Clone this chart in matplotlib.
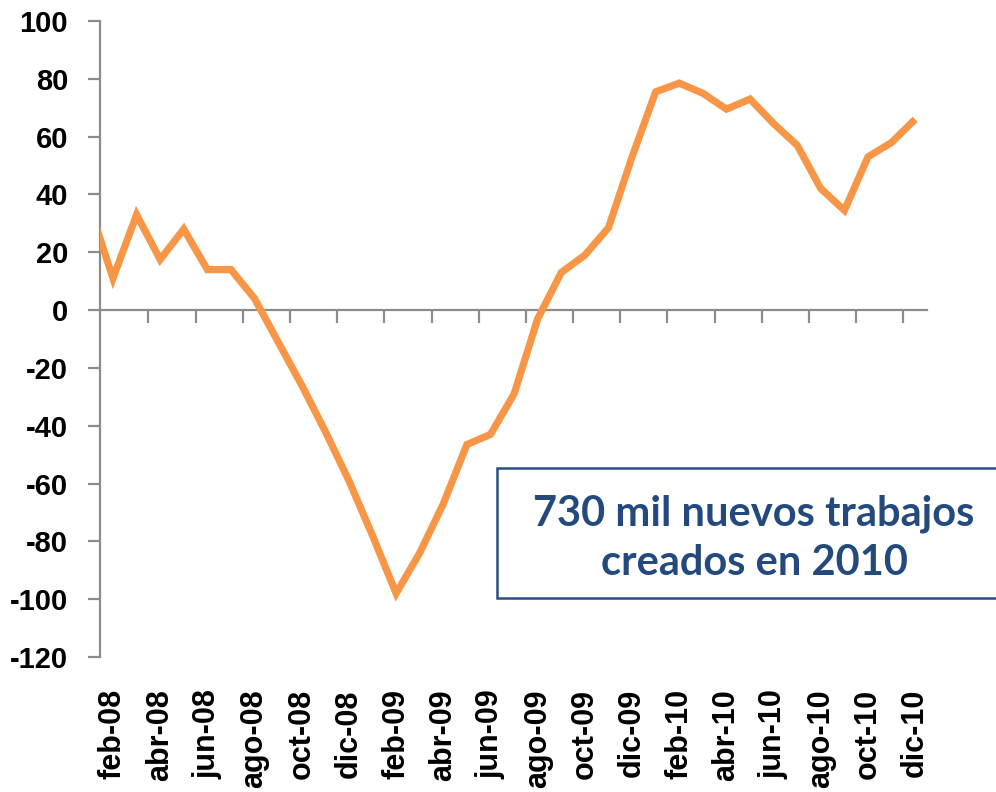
import matplotlib
matplotlib.use("Agg")
import matplotlib.pyplot as plt
import matplotlib.transforms as mtransforms
from matplotlib.patches import Rectangle

months = ["ene", "feb", "mar", "abr", "may", "jun", "jul", "ago", "sep", "oct", "nov", "dic"]
years = ["08", "09", "10"]
categories = [f"{m}-{y}" for y in years for m in months]

values = [36, 11, 33, 17.5, 28, 14, 14, 4,
          -11, -26, -42, -59,
          -78, -98, -84, -67, -46.5, -43, -29, -3, 13, 19, 28.5, 53,
          75.5, 78.5, 75, 69.5, 73, 64.5, 57, 42, 34.5, 53, 58, 66]

yticks = list(range(-120, 101, 20))
annotation = "730 mil nuevos trabajos\ncreados en 2010"

W, H = 996, 792
fig = plt.figure(figsize=(W / 100, H / 100), dpi=100)
ax = fig.add_axes([100 / W, 1 - 657 / H, 827 / W, 636 / H])

x = list(range(len(values)))
ax.plot(x, values, color="#F79646", lw=5.2, solid_joinstyle="miter", solid_capstyle="butt", zorder=3)

ax.set_xlim(0.45, 35.5)
ax.set_ylim(-120, 100)

grey = "#8C8C8C"
for s in ["top", "right"]:
    ax.spines[s].set_visible(False)
ax.spines["left"].set_color(grey)
ax.spines["left"].set_linewidth(1.6)
ax.spines["bottom"].set_position(("data", 0))
ax.spines["bottom"].set_color(grey)
ax.spines["bottom"].set_linewidth(1.6)

ax.set_yticks(yticks)
ax.set_yticklabels([str(v) for v in yticks], fontsize=21, fontweight="bold",
                   family=["Liberation Sans", "DejaVu Sans"])
ax.tick_params(axis="y", direction="out", length=9, width=1.6, color=grey, pad=14)

tick_pos = [i + 0.5 for i in range(2, len(values) - 1, 2)]
ax.set_xticks(tick_pos)
ax.set_xticklabels([])
ax.tick_params(axis="x", direction="out", length=9, width=1.6, color=grey)

trans = mtransforms.blended_transform_factory(ax.transData, fig.transFigure)
for i in range(1, len(categories), 2):
    ax.text(i, 1 - 689 / H, categories[i], rotation=90, ha="center", va="top",
            fontsize=22, fontweight="bold", family=["Liberation Sans", "DejaVu Sans"],
            transform=trans, clip_on=False)

rect = Rectangle((497 / W, 1 - 598 / H), (W - 497 + 10) / W, 130 / H,
                 transform=fig.transFigure, fill=True, facecolor="white",
                 edgecolor="#2A4F84", lw=1.8, clip_on=False, zorder=5)
fig.patches.append(rect)
fig.text(754 / W, 1 - 538 / H, annotation, ha="center", va="center",
         fontsize=30, fontweight="bold", color="#244A7D",
         family=["Lato", "DejaVu Sans"], linespacing=1.35, zorder=6)

fig.savefig("out.png", dpi=100)
